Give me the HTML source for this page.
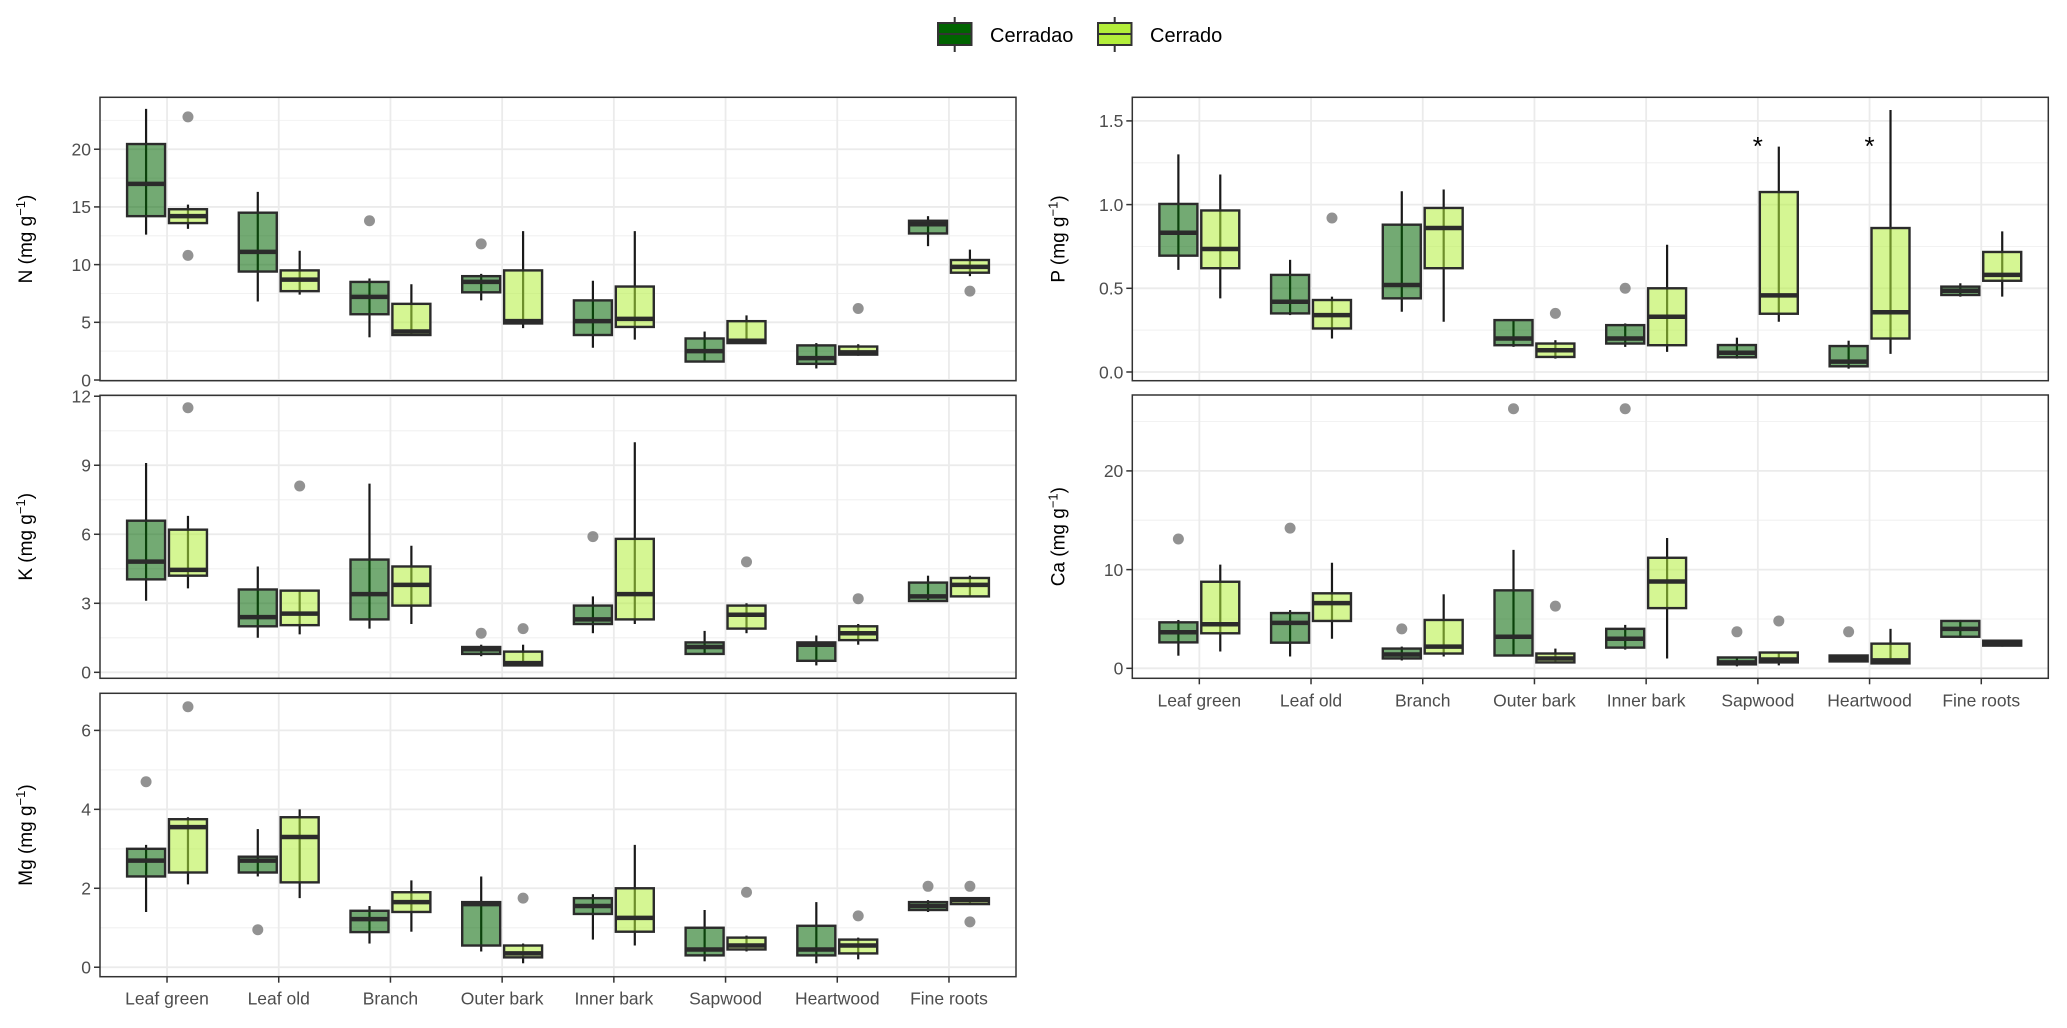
<!DOCTYPE html>
<html><head><meta charset="utf-8"><style>
html,body{margin:0;padding:0;background:#fff;}
svg{display:block;font-family:"Liberation Sans",Arial,sans-serif;}
</style></head><body>
<svg id="chart" width="2067" height="1028" viewBox="0 0 2067 1028" xmlns="http://www.w3.org/2000/svg">
<g>
  <g>
    <line x1="954.7" y1="17" x2="954.7" y2="52" stroke="#333" stroke-width="2"/>
    <rect x="938" y="23" width="33.5" height="22" fill="#006400" stroke="#333" stroke-width="2"/>
    <line x1="938" y1="34" x2="971.5" y2="34" stroke="#333" stroke-width="2"/>
    <text x="990" y="42" font-size="20" fill="#000">Cerradao</text>
  </g>
  <g>
    <line x1="1114.7" y1="17" x2="1114.7" y2="52" stroke="#333" stroke-width="2"/>
    <rect x="1098" y="23" width="33.5" height="22" fill="#b3ee3a" stroke="#333" stroke-width="2"/>
    <line x1="1098" y1="34" x2="1131.5" y2="34" stroke="#333" stroke-width="2"/>
    <text x="1150" y="42" font-size="20" fill="#000">Cerrado</text>
  </g>
</g>
</svg>
<script>
const categories = ["Leaf green","Leaf old","Branch","Outer bark","Inner bark","Sapwood","Heartwood","Fine roots"];
// each stat: [upper whisker, Q3, median, Q1, lower whisker]
const nCerradao = [[23.5,20.45,17.0,14.2,12.6],[16.3,14.5,11.1,9.4,6.8],[8.8,8.5,7.2,5.7,3.7],[9.2,9.0,8.5,7.6,6.9],[8.6,6.9,5.1,3.9,2.8],[4.2,3.6,2.5,1.6,1.6],[3.2,3.0,1.9,1.4,1.0],[14.2,13.8,13.5,12.7,11.6]];
const nCerrado = [[15.2,14.8,14.2,13.6,13.1],[11.2,9.5,8.7,7.7,7.4],[8.3,6.6,4.2,3.9,3.9],[12.9,9.5,5.1,4.9,4.5],[12.9,8.1,5.3,4.6,3.5],[5.6,5.1,3.4,3.2,3.2],[3.1,2.9,2.4,2.2,2.1],[11.3,10.4,9.8,9.3,9.0]];
const nOutCerradao = [[],[],[13.8],[11.8],[],[],[],[]];
const nOutCerrado = [[22.8,10.8],[],[],[],[],[],[6.2],[7.7]];
const kCerradao = [[9.1,6.59,4.81,4.04,3.11],[4.6,3.6,2.4,2.0,1.5],[8.2,4.9,3.4,2.3,1.9],[1.2,1.1,1.0,0.8,0.7],[3.3,2.9,2.3,2.1,1.7],[1.8,1.3,1.1,0.8,0.8],[1.6,1.3,1.2,0.5,0.3],[4.2,3.9,3.3,3.1,3.1]];
const kCerrado = [[6.8,6.2,4.45,4.2,3.65],[3.6,3.55,2.55,2.05,1.65],[5.5,4.6,3.8,2.9,2.1],[1.2,0.9,0.4,0.3,0.3],[10.0,5.8,3.4,2.3,2.1],[3.0,2.9,2.5,1.9,1.7],[2.1,2.0,1.7,1.4,1.2],[4.2,4.1,3.8,3.3,3.3]];
const kOutCerradao = [[],[],[],[1.7],[5.9],[],[],[]];
const kOutCerrado = [[11.5],[8.1],[],[1.9],[],[4.8],[3.2],[]];
const mgCerradao = [[3.1,3.0,2.7,2.3,1.4],[3.5,2.8,2.7,2.4,2.3],[1.55,1.43,1.22,0.89,0.6],[2.3,1.65,1.6,0.55,0.4],[1.85,1.75,1.55,1.35,0.7],[1.45,1.0,0.45,0.3,0.15],[1.65,1.05,0.45,0.3,0.1],[1.7,1.65,1.55,1.45,1.4]];
const mgCerrado = [[3.8,3.75,3.55,2.4,2.1],[4.0,3.8,3.3,2.15,1.75],[2.2,1.9,1.65,1.4,0.9],[0.6,0.55,0.35,0.25,0.1],[3.1,2.0,1.25,0.9,0.55],[0.8,0.75,0.55,0.45,0.4],[0.75,0.7,0.55,0.35,0.2],[1.75,1.75,1.7,1.6,1.6]];
const mgOutCerradao = [[4.7],[0.95],[],[],[],[],[],[2.05]];
const mgOutCerrado = [[6.6],[],[],[1.75],[],[1.9],[1.3],[2.05,1.15]];
const pCerradao = [[1.30,1.004,0.832,0.695,0.61],[0.67,0.58,0.42,0.35,0.34],[1.08,0.88,0.52,0.44,0.36],[0.31,0.31,0.2,0.16,0.15],[0.29,0.28,0.2,0.17,0.15],[0.205,0.161,0.115,0.088,0.08],[0.187,0.155,0.062,0.034,0.02],[0.53,0.51,0.485,0.46,0.45]];
const pCerrado = [[1.18,0.965,0.735,0.62,0.44],[0.45,0.43,0.34,0.26,0.2],[1.09,0.98,0.86,0.62,0.3],[0.19,0.17,0.13,0.09,0.08],[0.76,0.5,0.33,0.16,0.12],[1.346,1.075,0.458,0.348,0.30],[1.565,0.86,0.357,0.20,0.108],[0.84,0.717,0.58,0.545,0.45]];
const pOutCerradao = [[],[],[],[],[0.5],[],[],[]];
const pOutCerrado = [[],[0.92],[],[0.35],[],[],[],[]];
const pStars = [5,6];
const pStarValue = 1.38;
const caCerradao = [[4.9,4.66,3.65,2.63,1.28],[5.9,5.6,4.6,2.6,1.2],[2.2,2.0,1.4,1.0,0.8],[12.0,7.9,3.2,1.3,1.2],[4.4,4.0,3.0,2.1,1.9],[1.2,1.1,0.6,0.4,0.2],[1.3,1.3,1.0,0.7,0.6],[4.9,4.8,4.0,3.2,3.1]];
const caCerrado = [[10.5,8.77,4.46,3.55,1.7],[10.7,7.6,6.6,4.8,3.0],[7.5,4.9,2.2,1.5,1.2],[2.0,1.5,1.0,0.6,0.5],[13.2,11.2,8.8,6.1,1.0],[1.7,1.6,0.9,0.6,0.3],[4.0,2.5,0.8,0.5,0.4],[2.9,2.8,2.5,2.3,2.2]];
const caOutCerradao = [[13.1],[14.2],[4.0],[26.3],[26.3],[3.7],[3.7],[]];
const caOutCerrado = [[],[],[],[6.3],[],[4.8],[],[]];
const nTicks = [0,5,10,15,20], kTicks=[0,3,6,9,12], mgTicks=[0,2,4,6], pTicks=[0,0.5,1,1.5], caTicks=[0,10,20];
const pTickLabels = ["0.0","0.5","1.0","1.5"];

const NS="http://www.w3.org/2000/svg";
const svg=document.getElementById('chart');
function mk(tag,attrs,parent){const e=document.createElementNS(NS,tag);for(const k in attrs)e.setAttribute(k,attrs[k]);(parent||svg).appendChild(e);return e;}

function panel(cfg){
  const {name,x0,x1,yTop,yBot,vMin,vMax,ticks,tickLabels,g1,g2,o1,o2,title,xlabels,stars}=cfg;
  const g=mk('g',{});
  
  
  const y=v=>yBot-(v-vMin)/(vMax-vMin)*(yBot-yTop);
  const step=(x1-x0)/8.2;
  const xc=i=>x0+step*(0.6+i);
  // minor grid
  for(let i=0;i<ticks.length;i++){
    const h=(ticks[1]-ticks[0])/2, mv=ticks[i]+h;
    [ticks[i]-h,mv].forEach(v=>{ if(v>vMin&&v<vMax&&!ticks.includes(v)) mk('line',{x1:x0,x2:x1,y1:y(v),y2:y(v),stroke:'#f2f2f2','stroke-width':1},g);});
  }
  ticks.forEach(v=>{mk('line',{x1:x0,x2:x1,y1:y(v),y2:y(v),stroke:'#ebebeb','stroke-width':1.8},g);});
  categories.forEach((c,i)=>{mk('line',{x1:xc(i),x2:xc(i),y1:yTop,y2:yBot,stroke:'#ebebeb','stroke-width':1.8},g);});
  const off=step*0.1875, bw=step*0.34;
  function box(s,cx,fill,gname){
    const bg=mk('g',{},g);
    
    
    mk('line',{x1:cx,x2:cx,y1:y(s[0]),y2:y(s[4]),stroke:'#1a1a1a','stroke-width':2.2},bg);
    mk('rect',{x:cx-bw/2,y:y(s[1]),width:bw,height:Math.max(1,y(s[3])-y(s[1])),fill:fill,'fill-opacity':0.55,stroke:'#2b2b2b','stroke-width':2.4},bg);
    mk('line',{x1:cx-bw/2,x2:cx+bw/2,y1:y(s[2]),y2:y(s[2]),stroke:'#2b2b2b','stroke-width':4.5},bg);
  }
  categories.forEach((c,i)=>{
    box(g1[i],xc(i)-off,'#006400','box-cerradao-'+c.toLowerCase().replace(' ','-'));
    box(g2[i],xc(i)+off,'#b3ee3a','box-cerrado-'+c.toLowerCase().replace(' ','-'));
    o1[i].forEach(v=>{const p=mk('circle',{cx:xc(i)-off,cy:y(v),r:5.5,fill:'#7f7f7f','fill-opacity':0.85},g);
      
      });
    o2[i].forEach(v=>{const p=mk('circle',{cx:xc(i)+off,cy:y(v),r:5.5,fill:'#7f7f7f','fill-opacity':0.85},g);
      
      });
  });
  if(stars) stars.forEach(i=>{const t=mk('text',{x:xc(i),y:y(pStarValue)+14,'font-size':26,'text-anchor':'middle',fill:'#000'},g);t.textContent='*';
    
    });
  mk('rect',{x:x0,y:yTop,width:x1-x0,height:yBot-yTop,fill:'none',stroke:'#333','stroke-width':1.5},g);
  ticks.forEach((v,i)=>{
    mk('line',{x1:x0-6,x2:x0,y1:y(v),y2:y(v),stroke:'#333','stroke-width':1.5},g);
    const t=mk('text',{x:x0-9,y:y(v)+6.3,'font-size':17.5,'text-anchor':'end',fill:'#4d4d4d'},g);
    t.textContent=tickLabels?tickLabels[i]:String(v);
    
    
  });
  const ty=(yTop+yBot)/2, tx=x0-68;
  const tt=mk('text',{x:tx,y:ty,'font-size':19,'text-anchor':'middle',fill:'#000',transform:`rotate(-90 ${tx} ${ty})`},g);
  tt.innerHTML=title+' (mg g<tspan dy="-7" font-size="13">−1</tspan><tspan dy="7">)</tspan>';
  
  
  if(xlabels){
    categories.forEach((c,i)=>{
      mk('line',{x1:xc(i),x2:xc(i),y1:yBot,y2:yBot+6,stroke:'#333','stroke-width':1.5},g);
      const t=mk('text',{x:xc(i),y:yBot+28,'font-size':17.5,'text-anchor':'middle',fill:'#4d4d4d'},g);
      t.textContent=c;
      
      
    });
  }
}
panel({name:'n',x0:100,x1:1016,yTop:97.3,yBot:380.7,vMin:-0.06,vMax:24.5,ticks:nTicks,g1:nCerradao,g2:nCerrado,o1:nOutCerradao,o2:nOutCerrado,title:'N'});
panel({name:'k',x0:100,x1:1016,yTop:395.3,yBot:678.3,vMin:-0.26,vMax:12.04,ticks:kTicks,g1:kCerradao,g2:kCerrado,o1:kOutCerradao,o2:kOutCerrado,title:'K'});
panel({name:'mg',x0:100,x1:1016,yTop:693.3,yBot:976.7,vMin:-0.24,vMax:6.94,ticks:mgTicks,g1:mgCerradao,g2:mgCerrado,o1:mgOutCerradao,o2:mgOutCerrado,title:'Mg',xlabels:true});
panel({name:'p',x0:1132.3,x1:2048.3,yTop:97.3,yBot:380.7,vMin:-0.052,vMax:1.641,ticks:pTicks,tickLabels:pTickLabels,g1:pCerradao,g2:pCerrado,o1:pOutCerradao,o2:pOutCerrado,title:'P',stars:pStars});
panel({name:'ca',x0:1132.3,x1:2048.3,yTop:395,yBot:678.3,vMin:-1.01,vMax:27.69,ticks:caTicks,g1:caCerradao,g2:caCerrado,o1:caOutCerradao,o2:caOutCerrado,title:'Ca',xlabels:true});
</script>
</body></html>
